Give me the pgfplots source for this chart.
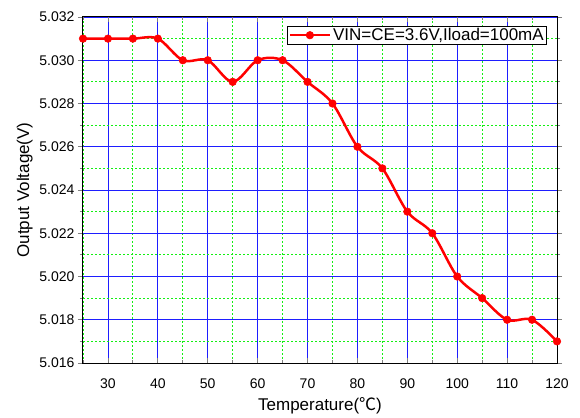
\documentclass[border=0pt]{standalone}
\usepackage{pgfplots}
\pgfplotsset{compat=1.18}
\usepackage{fontspec}
\setmainfont{Liberation Sans}
\newfontfamily\cjk{Noto Sans CJK SC}
\definecolor{gridblue}{RGB}{30,30,255}
\definecolor{gridgreen}{RGB}{20,240,20}

\pgfplotstableread{
T V
25 5.031
30 5.031
35 5.031
40 5.031
45 5.030
50 5.030
55 5.029
60 5.030
65 5.030
70 5.029
75 5.028
80 5.026
85 5.025
90 5.023
95 5.022
100 5.020
105 5.019
110 5.018
115 5.018
120 5.017
}\vout

\begin{document}
\begin{tikzpicture}
\begin{axis}[
  scale only axis,
  width=474pt, height=346pt,
  xmin=25, xmax=120,
  ymin=5.016, ymax=5.032,
  xtick={30,40,...,120},
  minor xtick={25,35,...,115},
  ytick={5.016,5.018,...,5.0325},
  minor ytick={5.017,5.019,...,5.0315},
  grid=both,
  major grid style={color=gridblue, line width=0.8pt},
  minor grid style={color=gridgreen, line width=0.8pt, dash pattern=on 2pt off 2pt},
  axis line style={black, line width=1pt},
  xtick align=inside,
  ytick align=outside,
  major tick length=5pt,
  minor tick length=3pt,
  tick style={line width=0.8pt},
  every tick label/.append style={font=\fontsize{14}{16}\selectfont},
  /pgf/number format/assume math mode=true,
  yticklabel style={/pgf/number format/.cd, fixed, fixed zerofill, precision=3},
  xticklabel style={yshift=-12pt},
  scaled y ticks=false,
  xlabel={Temperature({\cjk ℃})},
  ylabel={Output Voltage(V)},
  label style={font=\fontsize{17}{19}\selectfont},
  xlabel style={yshift=-2pt},
  legend style={at={(0.979,0.974)}, anchor=north east, draw=black,
    line width=0.6pt, font=\fontsize{17}{19}\selectfont,
    inner xsep=1pt, inner ysep=0pt, row sep=0pt},
  legend image code/.code={%
    \draw[mark repeat=2, mark phase=2, line width=2.5pt]
      plot coordinates {(0pt,0pt) (20pt,0pt) (40pt,0pt)};},
  legend cell align=left,
]
\addplot[red, line width=2.5pt, smooth, tension=0.55, mark=*, mark size=3.8pt,
  mark options={solid, fill=red, line width=0.5pt}] table[x=T, y=V] {\vout};
\addlegendentry{VIN=CE=3.6V,Iload=100mA}
\end{axis}
\pgfresetboundingbox
\path (current axis.south west) ++(-83pt,-54pt) rectangle ++(580pt,417pt);
\end{tikzpicture}
\end{document}
